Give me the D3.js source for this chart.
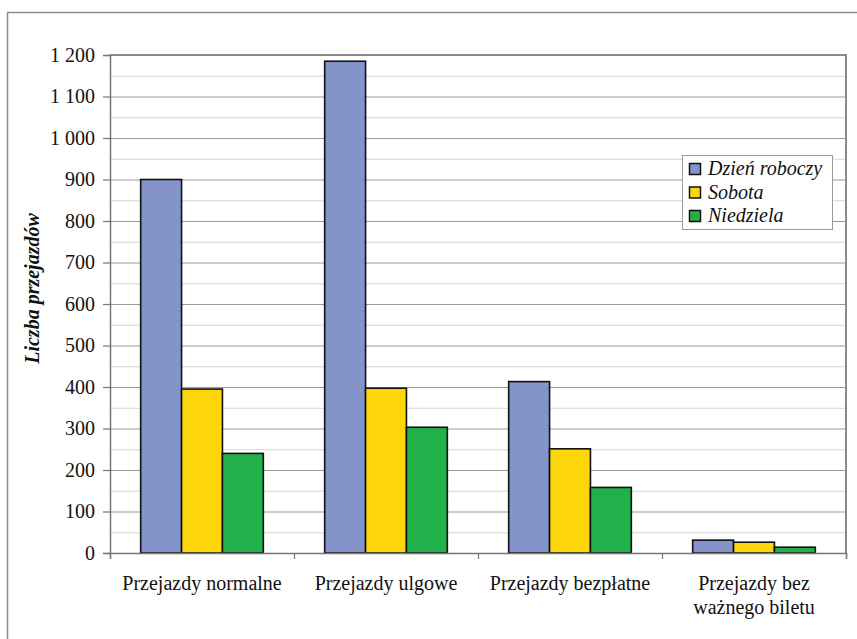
<!DOCTYPE html>
<html>
<head>
<meta charset="utf-8">
<script src="https://cdn.jsdelivr.net/npm/d3@7"></script>
<style>
  html, body { margin: 0; padding: 0; background: #fff; }
  svg { display: block; }
</style>
</head>
<body>
<svg id="chart" width="857" height="639"></svg>
<script>
// Categories and series
const categories = [
  ["Przejazdy normalne"],
  ["Przejazdy ulgowe"],
  ["Przejazdy bezpłatne"],
  ["Przejazdy bez", "ważnego biletu"]
];
const seriesNames = ["Dzień roboczy", "Sobota", "Niedziela"];
const dzienRoboczy = [900, 1185, 413, 31];
const sobota = [395, 397, 251, 26];
const niedziela = [240, 303, 158, 14];
const seriesColors = ["#8493CA", "#FDD70B", "#22B04B"];
const yTicks = [0, 100, 200, 300, 400, 500, 600, 700, 800, 900, 1000, 1100, 1200];
const yMinor = d3.range(50, 1200, 100);
const yTitle = "Liczba przejazdów";

const seriesValues = [dzienRoboczy, sobota, niedziela];
const FONT = "'Liberation Serif'";
const FS = 20;

(function draw() {
  const svg = d3.select("#chart");

  // outer chart frame
  svg.append("rect")
    .attr("x", 7.5).attr("y", 12.5)
    .attr("width", 870).attr("height", 640)
    .attr("fill", "none").attr("stroke", "#8a8a8a").attr("stroke-width", 1.5);

  const plotL = 110, plotR = 846, plotT = 55, plotB = 553;

  const x = d3.scaleBand()
    .domain(d3.range(categories.length))
    .range([plotL, plotR])
    .paddingInner(0).paddingOuter(0);

  const groupPad = x.bandwidth() / 4.5 * 0.75;
  const xs = d3.scaleBand()
    .domain(d3.range(seriesNames.length))
    .range([groupPad, x.bandwidth() - groupPad]);

  const y = d3.scaleLinear().domain([0, 1200]).range([plotB, plotT]);

  // minor gridlines
  svg.append("g").selectAll("line").data(yMinor).join("line")
    .attr("x1", plotL).attr("x2", plotR)
    .attr("y1", d => y(d) + 0.5).attr("y2", d => y(d) + 0.5)
    .attr("stroke", "#d4d4d4").attr("stroke-width", 1);

  // major gridlines
  svg.append("g").selectAll("line").data(yTicks.filter(d => d > 0)).join("line")
    .attr("x1", plotL).attr("x2", plotR)
    .attr("y1", d => y(d) + 0.5).attr("y2", d => y(d) + 0.5)
    .attr("stroke", "#9a9a9a").attr("stroke-width", 1);

  // plot area top & right border
  svg.append("path")
    .attr("d", `M${plotL},${plotT} H${plotR} V${plotB}`)
    .attr("fill", "none").attr("stroke", "#8a8a8a").attr("stroke-width", 2);

  // bars
  const groups = svg.append("g").selectAll("g").data(categories).join("g")
    .attr("transform", (d, i) => `translate(${x(i)},0)`);

  groups.selectAll("rect")
    .data((d, i) => seriesValues.map((vals, s) => ({ s, v: vals[i] })))
    .join("rect")
    .attr("x", d => xs(d.s))
    .attr("width", xs.bandwidth())
    .attr("y", d => y(d.v))
    .attr("height", d => y(0) - y(d.v))
    .attr("fill", d => seriesColors[d.s])
    .attr("stroke", "#111").attr("stroke-width", 1.6);

  // y axis
  const yAxis = d3.axisLeft(y)
    .tickValues(yTicks)
    .tickSize(7)
    .tickFormat(d => d3.format(",")(d).replace(/,/g, " "));
  const gy = svg.append("g").attr("transform", `translate(${plotL},0)`).call(yAxis)
    .attr("font-family", FONT).attr("font-size", FS);
  gy.select(".domain").attr("stroke", "#777").attr("stroke-width", 1.5);
  gy.selectAll(".tick line").attr("stroke", "#777").attr("stroke-width", 1.2);
  gy.selectAll(".tick text")
    .attr("x", -15)
    .attr("fill", "#111");

  // x axis
  const xAxis = d3.axisBottom(d3.scaleLinear().domain([0, categories.length]).range([plotL, plotR]))
    .tickValues(d3.range(categories.length + 1))
    .tickSize(6).tickFormat("");
  const gx = svg.append("g").attr("transform", `translate(0,${plotB})`).call(xAxis);
  gx.select(".domain").attr("stroke", "#777").attr("stroke-width", 1.5);
  gx.selectAll(".tick line").attr("stroke", "#777").attr("stroke-width", 1.2);

  // category labels
  svg.append("g").selectAll("text").data(categories).join("text")
    .attr("x", (d, i) => x(i) + x.bandwidth() / 2)
    .attr("y", 590)
    .attr("text-anchor", "middle")
    .attr("font-family", FONT).attr("font-size", FS).attr("fill", "#111")
    .each(function (lines) {
      const cx = d3.select(this).attr("x");
      d3.select(this).selectAll("tspan").data(lines).join("tspan")
        .attr("x", cx)
        .attr("dy", (d, j) => j === 0 ? 0 : 24)
        .text(d => d);
    });

  // y title
  svg.append("text")
    .attr("transform", `translate(39,${(212 + 365) / 2}) rotate(-90)`)
    .attr("text-anchor", "middle")
    .attr("font-family", FONT).attr("font-size", FS)
    .attr("font-weight", "bold").attr("font-style", "italic").attr("fill", "#111")
    .text(yTitle);

  // legend
  const lg = svg.append("g").attr("transform", "translate(682,155)");
  lg.append("rect")
    .attr("x", 0.5).attr("y", 0.5).attr("width", 150).attr("height", 74)
    .attr("fill", "#fff").attr("stroke", "#9a9a9a").attr("stroke-width", 1);
  const items = lg.selectAll("g").data(seriesNames).join("g")
    .attr("transform", (d, i) => `translate(7,${20 + i * 23.5})`);
  items.append("rect")
    .attr("x", 0.5).attr("y", -11.5).attr("width", 11).attr("height", 11)
    .attr("fill", (d, i) => seriesColors[i])
    .attr("stroke", "#111").attr("stroke-width", 1.5);
  items.append("text")
    .attr("x", 19).attr("y", 0)
    .attr("font-family", FONT).attr("font-size", FS)
    .attr("font-style", "italic").attr("fill", "#111")
    .text(d => d);
})();
</script>
</body>
</html>
